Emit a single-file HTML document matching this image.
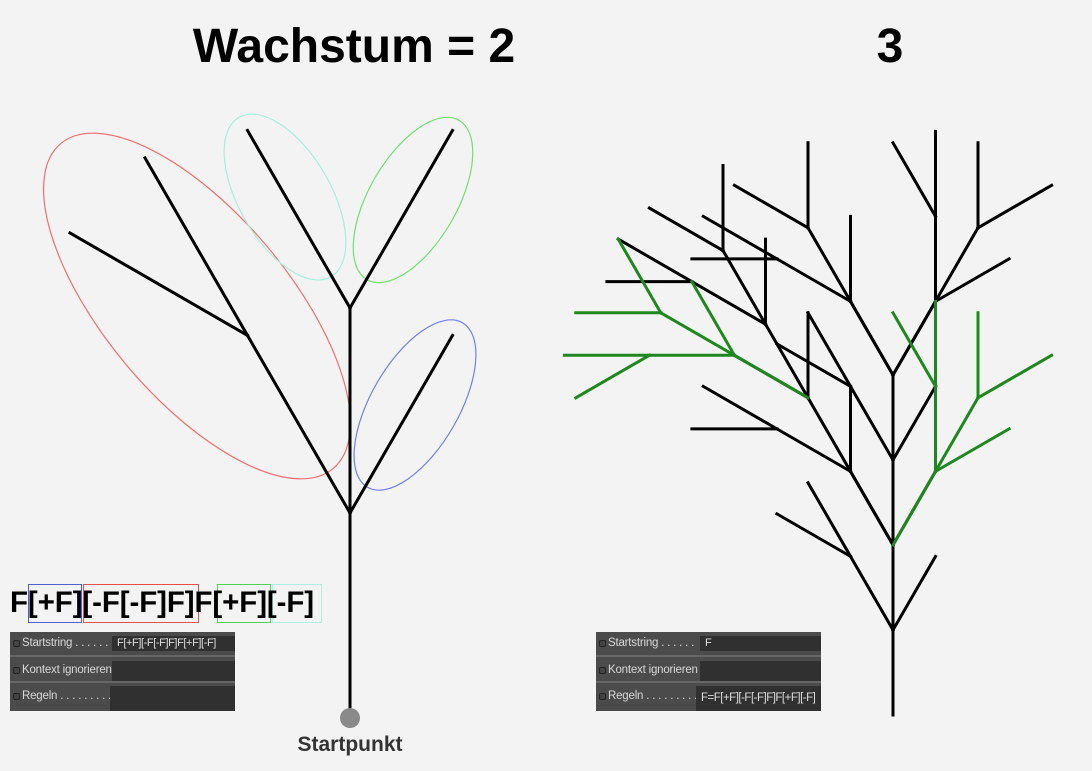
<!DOCTYPE html>
<html><head><meta charset="utf-8"><style>
html,body{margin:0;padding:0;background:#f3f3f3;}
body{width:1092px;height:771px;position:relative;overflow:hidden;font-family:"Liberation Sans",sans-serif;}
.t{position:absolute;font-weight:bold;color:#000;}
.panel{position:absolute;width:225px;height:79px;background:#4b4b4b;overflow:hidden;}
.row{position:absolute;left:0;width:225px;border-bottom:2px solid #666;}
.lab{position:absolute;left:12px;color:#d8d8d8;font-size:11.5px;white-space:nowrap;letter-spacing:-0.2px;}
.dot{position:absolute;left:3px;width:5px;height:5px;border:1px solid #222;border-radius:2px;background:#444;}
.fld{position:absolute;background:#303030;color:#ddd;font-size:11px;padding-left:5px;box-sizing:border-box;white-space:nowrap;overflow:hidden;letter-spacing:-0.4px;}
.str{position:absolute;left:10px;top:583px;font-size:29.5px;letter-spacing:-0.1px;font-weight:bold;white-space:nowrap;line-height:40px;}
.bx{position:absolute;top:584px;height:39px;border:1px solid;box-sizing:border-box;}
</style></head><body>
<svg id="sv" width="1092" height="771" style="position:absolute;left:0;top:0">
<ellipse cx="197" cy="306" rx="212" ry="92" transform="rotate(50 197 306)" fill="none" stroke="#f07070" stroke-width="1.2"/>
<ellipse cx="285" cy="197" rx="92" ry="46" transform="rotate(60 285 197)" fill="none" stroke="#a8eedd" stroke-width="1.2"/>
<ellipse cx="413" cy="200" rx="92" ry="44" transform="rotate(-60 413 200)" fill="none" stroke="#70e070" stroke-width="1.2"/>
<ellipse cx="415" cy="405" rx="95" ry="44" transform="rotate(-60 415 405)" fill="none" stroke="#6f7fee" stroke-width="1.2"/>
<circle cx="350" cy="718" r="10" fill="#8a8a8a"/>
</svg>
<div class="t" style="left:0;width:708px;text-align:center;top:19px;font-size:48px;">Wachstum = 2</div>
<div class="t" style="left:860px;width:60px;text-align:center;top:19px;font-size:48px;">3</div>
<div class="t" style="left:250px;width:200px;text-align:center;top:733px;font-size:21px;color:#333;">Startpunkt</div>

<div class="bx" style="left:28px;width:54px;border-color:#5060d0"></div>
<div class="bx" style="left:83px;width:116px;border-color:#e05050"></div>
<div class="bx" style="left:217px;width:54px;border-color:#50d050"></div>
<div class="bx" style="left:272px;width:50px;border-color:#b0eee0"></div>
<div class="str" id="st">F[+F][-F[-F]F]F[+F][-F]</div>

<div class="panel" style="left:10px;top:632px">
 <div class="row" style="top:0;height:23px"></div>
 <div class="row" style="top:25px;height:24px"></div>
 <div class="dot" style="top:8px"></div><div class="lab" style="top:5px">Startstring . . . . . .</div>
 <div class="fld" style="left:102px;top:4px;width:123px;height:15px;line-height:15px">F[+F][-F[-F]F]F[+F][-F]</div>
 <div class="dot" style="top:35px"></div><div class="lab" style="top:32px">Kontext ignorieren</div>
 <div class="fld" style="left:102px;top:29px;width:123px;height:20px"></div>
 <div class="dot" style="top:61px"></div><div class="lab" style="top:58px">Regeln . . . . . . . . .</div>
 <div class="fld" style="left:100px;top:54px;width:125px;height:25px"></div>
</div>
<div class="panel" style="left:596px;top:632px">
 <div class="row" style="top:0;height:23px"></div>
 <div class="row" style="top:25px;height:24px"></div>
 <div class="dot" style="top:8px"></div><div class="lab" style="top:5px">Startstring . . . . . .</div>
 <div class="fld" style="left:104px;top:4px;width:121px;height:15px;line-height:15px">F</div>
 <div class="dot" style="top:35px"></div><div class="lab" style="top:32px">Kontext ignorieren</div>
 <div class="fld" style="left:104px;top:29px;width:121px;height:20px"></div>
 <div class="dot" style="top:61px"></div><div class="lab" style="top:58px">Regeln . . . . . . . . .</div>
 <div class="fld" style="left:100px;top:54px;width:125px;height:25px;line-height:25px;font-size:11.5px;letter-spacing:-0.5px">F=F[+F][-F[-F]F]F[+F][-F]</div>
</div>
<script>
var NS="http://www.w3.org/2000/svg",sv=document.getElementById("sv");
var R="F[+F][-F[-F]F]F[+F][-F]";
function line(x1,y1,x2,y2,c){var l=document.createElementNS(NS,"line");l.setAttribute("x1",x1);l.setAttribute("y1",y1);l.setAttribute("x2",x2);l.setAttribute("y2",y2);l.setAttribute("stroke",c);l.setAttribute("stroke-width","3");l.setAttribute("stroke-linecap","square");sv.appendChild(l);}
function draw(tokens,x,y,s){var a=0,st=[];for(var i=0;i<tokens.length;i++){var t=tokens[i];
 if(t.c=="F"){var r=a*Math.PI/180,nx=x+s*Math.sin(r),ny=y-s*Math.cos(r);line(x,y,nx,ny,t.col);x=nx;y=ny;}
 else if(t.c=="+")a+=30;else if(t.c=="-")a-=30;else if(t.c=="[")st.push([x,y,a]);else if(t.c=="]"){var p=st.pop();x=p[0];y=p[1];a=p[2];}}}
var t2=R.split("").map(function(c){return{c:c,col:"#000"};});
var t3=[],fi=0;
R.split("").forEach(function(c){if(c=="F"){var col=(fi==1||fi==3)?"#1e881e":"#000";fi++;R.split("").forEach(function(d){t3.push({c:d,col:col});});}else t3.push({c:c,col:"#000"});});
draw(t3,893,715,85);
var greens=[].slice.call(sv.querySelectorAll('line[stroke="#1e881e"]'));greens.forEach(function(g){sv.appendChild(g);});
draw(t2,350,718,205);
sv.appendChild(sv.querySelector("circle"));
</script>
</body></html>
